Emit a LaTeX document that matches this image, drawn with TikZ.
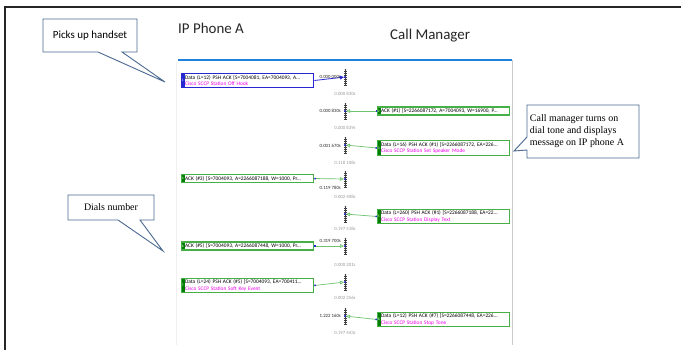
\documentclass[tikz,border=0pt]{standalone}
\usepackage{fontspec}
\setmainfont{Liberation Serif}
\newfontfamily\calfont{Carlito}
\usetikzlibrary{arrows.meta,positioning}

\definecolor{calloutline}{RGB}{75,105,145}
\definecolor{msggreen}{RGB}{70,175,70}
\definecolor{stripgreen}{RGB}{0,125,0}
\definecolor{msgblue}{RGB}{40,40,210}
\definecolor{arrowgreen}{RGB}{110,195,110}
\definecolor{sccp}{RGB}{235,0,235}
\definecolor{paneblue}{RGB}{30,130,220}

\newcommand{\sccpline}[1]{\textcolor{sccp}{#1}}

\tikzset{
  frame/.style={draw=black!85, line width=1.2bp},
  head/.style={font=\calfont\fontsize{15}{18}\selectfont, text=black!85, inner sep=0pt},
  callout/.style={draw=calloutline, line width=0.9bp, fill=white},
  strip/.style={path picture={\fill[#1] (path picture bounding box.south west) rectangle ([xshift=3.6bp]path picture bounding box.north west);}},
  msg/.style={draw=msggreen, line width=1.3bp, fill=white, strip=stripgreen,
    font=\calfont\fontsize{5.4}{6.6}\selectfont, align=left, text width=125bp,
    inner xsep=3.5bp, inner ysep=1.6bp, anchor=west},
  num/.style={font=\calfont\fontsize{3.5}{4}\selectfont, text=white, inner sep=0pt},
  tickline/.style={draw=black!75, line width=3bp, dash pattern=on 0.45bp off 1.55bp},
  flow/.style={draw=arrowgreen, line width=0.7bp, shorten >=1bp,
    {Square[length=1.5bp,width=1.5bp,color=msgblue]}-{Triangle[open,length=4bp,width=3.6bp]}},
  time/.style={font=\calfont\fontsize{4.8}{5}\selectfont, text=black!85, inner sep=0pt, anchor=east},
  gap/.style={font=\calfont\fontsize{4.8}{5}\selectfont, text=black!40, inner sep=0pt}
}

\begin{document}
\begin{tikzpicture}[x=1bp,y=-1bp]
  \useasboundingbox[fill=white] (0,0) rectangle (681,350);

  % page frame
  \draw[frame] (5,350) -- (5,7) -- (681,7);

  % capture pane
  \draw[paneblue, line width=1.2bp] (178,60) -- (512,60);
  \draw[black!20] (512,60) -- (512,345);
  \draw[black!6] (176,62) -- (176,345);

  \node[head, anchor=base west] (phone) at (178,33) {IP Phone A};
  \node[head, anchor=base west] (manager) at (390,39) {Call Manager};

  % time markers
  \coordinate (t1) at (345,77);
  \coordinate (t2) at (345,111);
  \coordinate (t3) at (345,145);
  \coordinate (t4) at (345,179);
  \coordinate (t5) at (345,214);
  \coordinate (t6) at (345,246);
  \coordinate (t7) at (345,282);
  \coordinate (t8) at (345,316);
  \foreach \t in {t1,t2,t3,t4,t5,t6,t7,t8} {
    \draw[black!75, line width=0.4bp] ([yshift=-8bp]\t) -- ([yshift=8bp]\t);
    \draw[tickline] ([yshift=-8bp]\t) -- ([yshift=8bp]\t);
    \fill[msgblue] (\t) circle (1.1bp);
  }

  % messages
  \node[msg, draw=msgblue, strip=msgblue] (m1) at (181,80.5) {Data (L=12) PSH ACK [S=7004081, EA=7004093, A...\\\sccpline{Cisco SCCP Station Off Hook}};
  \node[msg] (m2) at (377,111) {ACK (\#1) [S=2266087172, A=7004093, W=16900, P...};
  \node[msg] (m3) at (377,148) {Data (L=16) PSH ACK (\#1) [S=2266087172, EA=226...\\\sccpline{Cisco SCCP Station Set Speaker Mode}};
  \node[msg] (m4) at (181,178.5) {ACK (\#3) [S=7004093, A=2266087188, W=1000, Pr...};
  \node[msg] (m5) at (377,216.5) {Data (L=260) PSH ACK (\#1) [S=2266087188, EA=22...\\\sccpline{Cisco SCCP Station Display Text}};
  \node[msg] (m6) at (181,246) {ACK (\#5) [S=7004093, A=2266087448, W=1000, Pr...};
  \node[msg] (m7) at (181,285.5) {Data (L=24) PSH ACK (\#5) [S=7004093, EA=700411...\\\sccpline{Cisco SCCP Station Soft Key Event}};
  \node[msg] (m8) at (377,319.5) {Data (L=12) PSH ACK (\#7) [S=2266087448, EA=226...\\\sccpline{Cisco SCCP Station Stop Tone}};

  \node[num] (n1) at ([xshift=1.8bp]m1.west) {1};
  \node[num] (n2) at ([xshift=1.8bp]m2.west) {2};
  \node[num] (n3) at ([xshift=1.8bp]m3.west) {3};
  \node[num] (n4) at ([xshift=1.8bp]m4.west) {4};
  \node[num] (n5) at ([xshift=1.8bp]m5.west) {5};
  \node[num] (n6) at ([xshift=1.8bp]m6.west) {6};
  \node[num] (n7) at ([xshift=1.8bp]m7.west) {7};
  \node[num] (n8) at ([xshift=1.8bp]m8.west) {8};

  % arrows to the markers
  \draw[msgblue, line width=0.8bp, shorten >=1bp, -{Triangle[length=4bp,width=3.6bp]}] (m1.east) -- (t1);
  \draw[flow] (m2.west) -- (t2);
  \draw[flow] (m3.west) -- (t3);
  \draw[flow] (m4.east) -- (t4);
  \draw[flow] (m5.west) -- (t5);
  \draw[flow] (m6.east) -- (t6);
  \draw[flow] (m7.east) -- (t7);
  \draw[flow] (m8.west) -- (t8);

  % times
  \node[time] (c1) at (341,77) {0.000 000s};
  \node[time] (c2) at (341,111) {0.000 830s};
  \node[time] (c3) at (341,146) {0.001 670s};
  \node[time] (c4) at (341,188) {0.119 780s};
  \node[time] (c6) at (341,241) {0.319 700s};
  \node[time] (c8) at (341,316) {1.222 160s};

  \node[gap] (g1) at (345,94) {0.000 830s};
  \node[gap] (g2) at (345,128) {0.000 839s};
  \node[gap] (g3) at (345,163) {0.118 108s};
  \node[gap] (g4) at (345,197) {0.002 408s};
  \node[gap] (g5) at (345,229) {0.197 518s};
  \node[gap] (g6) at (345,265) {0.000 201s};
  \node[gap] (g7) at (345,298) {0.002 256s};
  \node[gap] (g8) at (345,333) {0.197 443s};

  % callouts
  \draw[callout] (43,19) -- (137,19) -- (137,52) -- (122,52) -- (165,82) -- (98,52) -- (43,52) -- cycle;
  \node[font=\calfont\fontsize{11}{13}\selectfont] (handset) at (90,35.5) {Picks up handset};

  \draw[callout] (68,195) -- (154,195) -- (154,220) -- (140,220) -- (163,251) -- (118,220) -- (68,220) -- cycle;
  \node[font=\fontsize{10}{12}\selectfont] (dials) at (111,207.5) {Dials number};

  \draw[callout] (527,105) -- (639,105) -- (639,158) -- (527,158) -- (527,150) -- (514,151) -- (527,137) -- cycle;
  \node[font=\fontsize{10}{12}\selectfont, align=left] (tone) at (577,131.5) {Call manager turns on\\dial tone and displays\\message on IP phone A};
\end{tikzpicture}
\end{document}
